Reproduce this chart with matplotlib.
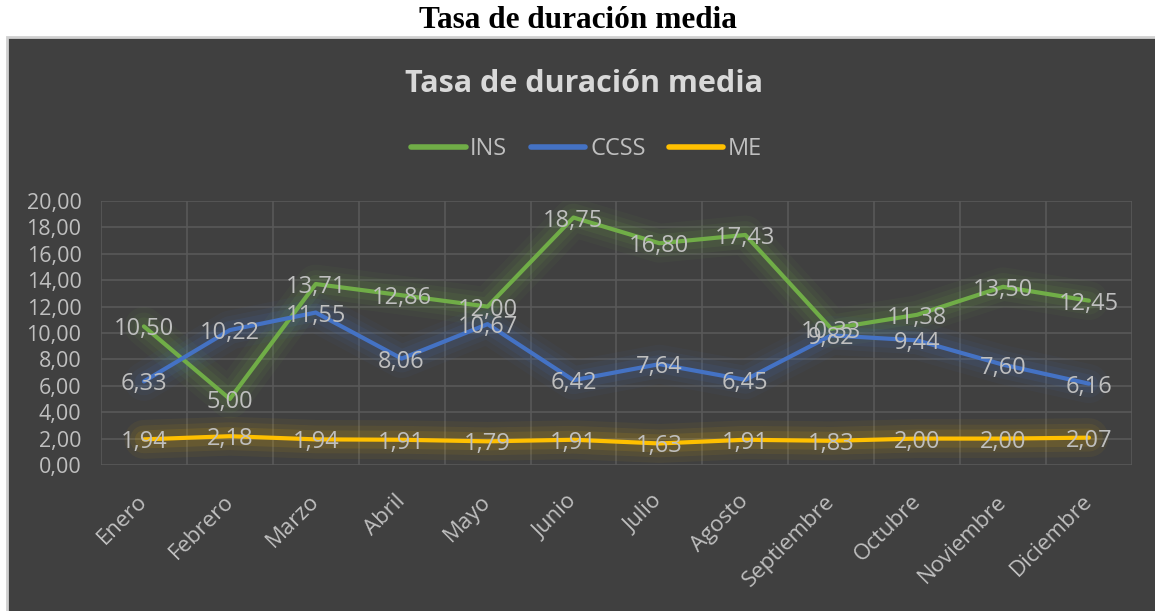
import matplotlib
matplotlib.use("Agg")
import matplotlib.pyplot as plt
from matplotlib.patches import Rectangle
from matplotlib.lines import Line2D
from matplotlib.ticker import FuncFormatter
from matplotlib.transforms import ScaledTranslation

BG_PANEL = "#404040"
GRID_COL = "#595959"
TXT_COL = "#BFBFBF"
TITLE_COL = "#D9D9D9"
FONT = "Open Sans"

months = ["Enero", "Febrero", "Marzo", "Abril", "Mayo", "Junio", "Julio",
          "Agosto", "Septiembre", "Octubre", "Noviembre", "Diciembre"]
ins = [10.50, 5.00, 13.71, 12.86, 12.00, 18.75, 16.80, 17.43, 10.33, 11.38, 13.50, 12.45]
ccss = [6.33, 10.22, 11.55, 8.06, 10.67, 6.42, 7.64, 6.45, 9.82, 9.44, 7.60, 6.16]
me = [1.94, 2.18, 1.94, 1.91, 1.79, 1.91, 1.63, 1.91, 1.83, 2.00, 2.00, 2.07]
series_names = ["INS", "CCSS", "ME"]
series_colors = ["#70AD47", "#4472C4", "#FFC000"]
y_ticks = [0, 2, 4, 6, 8, 10, 12, 14, 16, 18, 20]

fig = plt.figure(figsize=(11.55, 6.11), dpi=100, facecolor="white")

# dark chart panel
fig.patches.append(Rectangle((0.006, -0.01), 1.0, 0.949, transform=fig.transFigure,
                             facecolor=BG_PANEL, edgecolor="#D0D0D0", linewidth=2, zorder=-5))

fig.text(0.5, 0.966, "Tasa de duración media", ha="center", va="center",
         family="Liberation Serif", fontweight="bold", fontsize=22.5, color="black")
fig.text(0.506, 0.862, "Tasa de duración media", ha="center", va="center",
         family=FONT, fontweight="bold", fontsize=22, color=TITLE_COL)

ax = fig.add_axes([0.0874, 0.239, 0.8926, 0.432])
ax.set_facecolor("none")
x = list(range(len(months)))

for vals, color in zip([ins, ccss, me], series_colors):
    # soft glow under each line
    for lw, a in [(28, 0.05), (20, 0.07), (13, 0.10)]:
        ax.plot(x, vals, color=color, linewidth=lw, alpha=a, solid_capstyle="round",
                solid_joinstyle="round", zorder=2)
    ax.plot(x, vals, color=color, linewidth=3, solid_capstyle="round",
            solid_joinstyle="round", zorder=3)
    for xi, v in zip(x, vals):
        ax.text(xi, v, f"{v:.2f}".replace(".", ","), ha="center", va="center_baseline",
                family=FONT, fontsize=17, color=TXT_COL, zorder=4)

ax.set_xlim(-0.5, len(months) - 0.5)
ax.set_ylim(0, 20)
ax.set_yticks(y_ticks)
ax.yaxis.set_major_formatter(FuncFormatter(lambda v, p: f"{v:.2f}".replace(".", ",")))
ax.set_xticks(x)
ax.set_xticklabels([])
ax.set_xticks([i - 0.5 for i in range(len(months) + 1)], minor=True)

# category labels, rotated like the Excel axis
lab_tr = ax.get_xaxis_transform() + ScaledTranslation(-0.07, -0.26, fig.dpi_scale_trans)
for xi, m in zip(x, months):
    ax.text(xi, 0, m, transform=lab_tr, rotation=45, ha="right", va="top",
            rotation_mode="anchor", family=FONT, fontsize=16, color=TXT_COL)

for lab in ax.get_yticklabels():
    lab.set_family(FONT)
    lab.set_fontsize(15.5)
    lab.set_color(TXT_COL)

ax.tick_params(axis="both", which="both", length=0)
ax.tick_params(axis="y", pad=14)
ax.grid(axis="y", which="major", color=GRID_COL, linewidth=1.2)
ax.grid(axis="x", which="minor", color=GRID_COL, linewidth=1.2)
for s in ax.spines.values():
    s.set_visible(False)
ax.set_axisbelow(True)

handles = [Line2D([0], [0], color=c, linewidth=4, solid_capstyle="round") for c in series_colors]
leg = fig.legend(handles, series_names, loc="center", bbox_to_anchor=(0.508, 0.756),
                 ncol=3, frameon=False, handlelength=2.3, handletextpad=0.2,
                 columnspacing=1.0, prop={"family": FONT, "size": 17})
for t in leg.get_texts():
    t.set_color(TXT_COL)

fig.savefig("out.png", dpi=100, facecolor="white")
